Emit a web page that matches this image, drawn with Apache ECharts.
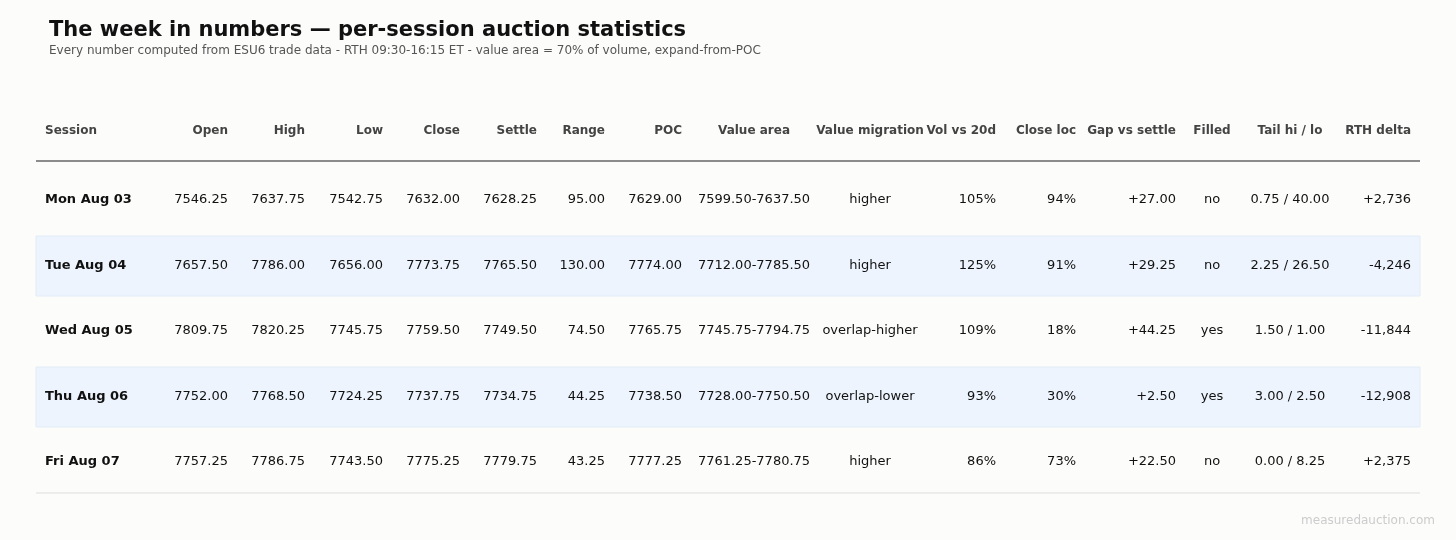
<!DOCTYPE html>
<html>
<head>
<meta charset="utf-8">
<script src="https://cdn.jsdelivr.net/npm/echarts@6/dist/echarts.min.js"></script>
<style>html,body{margin:0;background:#fcfcfa}#c{width:1456px;height:540px}</style>
</head>
<body>
<div id="c"></div>
<script>
var headers = ['Session','Open','High','Low','Close','Settle','Range','POC','Value area','Value migration','Vol vs 20d','Close loc','Gap vs settle','Filled','Tail hi / lo','RTH delta'];
var sessions = ['Mon Aug 03','Tue Aug 04','Wed Aug 05','Thu Aug 06','Fri Aug 07'];
var opens   = ['7546.25','7657.50','7809.75','7752.00','7757.25'];
var highs   = ['7637.75','7786.00','7820.25','7768.50','7786.75'];
var lows    = ['7542.75','7656.00','7745.75','7724.25','7743.50'];
var closes  = ['7632.00','7773.75','7759.50','7737.75','7775.25'];
var settles = ['7628.25','7765.50','7749.50','7734.75','7779.75'];
var ranges  = ['95.00','130.00','74.50','44.25','43.25'];
var pocs    = ['7629.00','7774.00','7765.75','7738.50','7777.25'];
var valueAreas = ['7599.50-7637.50','7712.00-7785.50','7745.75-7794.75','7728.00-7750.50','7761.25-7780.75'];
var migrations = ['higher','higher','overlap-higher','overlap-lower','higher'];
var volVs20d = ['105%','125%','109%','93%','86%'];
var closeLoc = ['94%','91%','18%','30%','73%'];
var gaps     = ['+27.00','+29.25','+44.25','+2.50','+22.50'];
var filled   = ['no','no','yes','yes','no'];
var tails    = ['0.75 / 40.00','2.25 / 26.50','1.50 / 1.00','3.00 / 2.50','0.00 / 8.25'];
var deltas   = ['+2,736','-4,246','-11,844','-12,908','+2,375'];

var columns = [sessions,opens,highs,lows,closes,settles,ranges,pocs,valueAreas,migrations,volVs20d,closeLoc,gaps,filled,tails,deltas];
// layout: column anchor x and alignment
var colX = [45,228,305,383,460,537,605,682,754,870,996,1076,1176,1212,1290,1411];
var colAlign = ['left','right','right','right','right','right','right','right','center','center','right','right','right','center','center','right'];
var headerY = 131, rowY = [200,266,331,397,462], rowH = 60;

var cells = [];
headers.forEach(function(h,c){ cells.push([c,-1,h]); });
columns.forEach(function(col,c){ col.forEach(function(v,r){ cells.push([c,r,v]); }); });

var chart = echarts.init(document.getElementById('c'));
chart.setOption({
  backgroundColor:'#fcfcfa',
  title:[{text:'The week in numbers — per-session auction statistics',left:44,top:15,
    textStyle:{fontFamily:'DejaVu Sans',fontSize:21,fontWeight:'bold',color:'#111'},
    subtext:'Every number computed from ESU6 trade data - RTH 09:30-16:15 ET - value area = 70% of volume, expand-from-POC',
    itemGap:4,subtextStyle:{fontFamily:'DejaVu Sans',fontSize:12,color:'#555'}},
    {text:'measuredauction.com',right:16,bottom:8,textStyle:{fontFamily:'DejaVu Sans',fontSize:12,fontWeight:'normal',color:'#ccc'}}],
  grid:{left:0,right:0,top:0,bottom:0},
  xAxis:{type:'value',min:0,max:1456,show:false},
  yAxis:{type:'value',min:0,max:540,inverse:true,show:false},
  series:[{
    type:'custom',
    data:rowY.map(function(y,r){return [r];}),
    renderItem:function(params,api){
      var r = api.value(0), children=[];
      if (r % 2 === 1) {
        var a = api.coord([36,rowY[r]-rowH/2]), b = api.coord([1420,rowY[r]+rowH/2]);
        children.push({type:'rect',shape:{x:a[0],y:a[1],width:b[0]-a[0],height:b[1]-a[1]},
          style:{fill:'#edf4fd',stroke:'#e2ecf8',lineWidth:1}});
      }
      if (r === 0) {
        var l1 = api.coord([36,161]), l2 = api.coord([1420,161]);
        children.push({type:'line',shape:{x1:l1[0],y1:l1[1],x2:l2[0],y2:l2[1]},style:{stroke:'#666',lineWidth:1.5}});
      }
      if (r === rowY.length-1) {
        var m1 = api.coord([36,493]), m2 = api.coord([1420,493]);
        children.push({type:'line',shape:{x1:m1[0],y1:m1[1],x2:m2[0],y2:m2[1]},style:{stroke:'#ddd',lineWidth:1}});
      }
      return {type:'group',children:children};
    },
    silent:true,z:1
  },{
    type:'custom',
    data:cells,
    renderItem:function(params,api){
      var c = api.value(0), r = api.value(1), txt = cells[params.dataIndex][2];
      var hdr = r < 0;
      var p = api.coord([colX[c], hdr ? headerY : rowY[r]]);
      return {type:'text',x:p[0],y:p[1],style:{text:txt,align:colAlign[hdr && c===0 ? 0 : c],verticalAlign:'middle',
        font:((hdr || c===0) ? 'bold ' : '') + (hdr ? '12px' : '13px') + ' "DejaVu Sans"',
        fill: hdr ? '#444' : '#111'}};
    },
    silent:true,z:2
  }]
});
</script>
</body>
</html>
